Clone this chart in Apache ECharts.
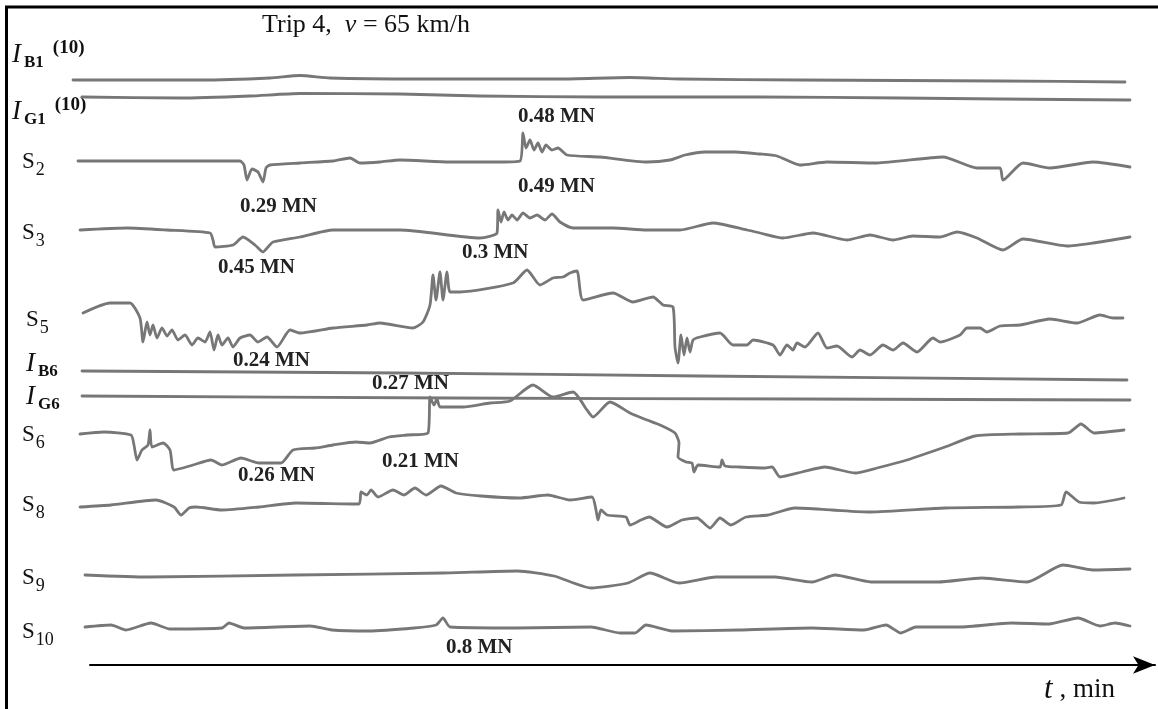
<!DOCTYPE html>
<html><head><meta charset="utf-8">
<script src="https://cdn.jsdelivr.net/npm/echarts@6/dist/echarts.min.js"></script>
<style>html,body{margin:0;padding:0;background:#fff}#c{width:1158px;height:709px}</style>
</head><body><div id="c"></div>
<script>
// time (arbitrary units from the start of the record) vs. pen position (chart units, downwards)
const IB1 = [[3,80],[130,80],[200,78],[230,75.5],[260,78],[350,79],[490,79],[560,77.5],[610,79],[730,80],[930,81],[1055,82]];
const IG1 = [[12,97],[110,98],[180,96],[230,93.5],[330,94],[410,96],[530,97],[690,97],[830,98],[930,99],[1060,100]];
const S2 = [[8,161],[170,161],[174,165],[177,180],[182,169],[188,172],[193,182],[196,168],[200,165],[230,163],[263,161],[280,158],[290,163],[310,162],[330,160],[380,162],[430,162],[450,161],[453,133],[456,148],[460,140],[464,150],[468,143],[472,152],[476,145],[482,150],[488,148],[497,155],[530,157],[577,162],[600,160],[615,155],[635,152],[665,152],[690,154],[707,156],[730,165],[757,162],[807,163],[873,157],[907,168],[930,168],[933,180],[953,163],[980,168],[1023,162],[1060,167]];
const S3 = [[10,230],[57,228],[97,230],[140,233],[143,240],[145,247],[163,245],[173,237],[185,245],[193,252],[198,247],[203,242],[230,237],[263,230],[330,230],[410,238],[427,233],[428,210],[431,222],[434,212],[438,220],[442,215],[447,220],[453,213],[460,218],[467,215],[475,220],[482,214],[490,222],[503,228],[543,228],[577,230],[610,230],[643,223],[677,230],[690,233],[713,238],[743,233],[777,240],[800,235],[823,240],[843,236],[870,237],[887,232],[907,238],[933,250],[953,239],[997,246],[1023,243],[1060,237]];
const S5 = [[13,313],[40,303],[60,303],[70,318],[73,342],[77,322],[80,335],[83,325],[87,338],[92,328],[97,336],[102,330],[108,340],[115,335],[122,345],[128,338],[135,342],[140,332],[144,350],[148,335],[152,345],[158,338],[163,347],[170,338],[180,335],[188,342],[197,337],[207,347],[220,330],[230,333],[263,328],[297,325],[310,323],[343,328],[353,322],[360,305],[363,275],[366,300],[370,272],[373,300],[377,272],[380,292],[390,292],[443,283],[457,270],[470,285],[483,278],[493,277],[500,273],[507,271],[513,300],[543,293],[563,302],[583,297],[593,305],[603,307],[605,347],[608,363],[611,335],[614,355],[617,338],[620,352],[623,340],[630,337],[650,333],[663,345],[677,345],[683,340],[703,345],[710,355],[717,345],[723,350],[727,343],[735,347],[748,333],[757,348],[767,346],[782,357],[790,350],[800,355],[813,345],[823,350],[833,343],[847,352],[863,338],[870,342],[890,335],[897,328],[910,328],[917,332],[930,326],[950,325],[980,319],[1007,323],[1030,315],[1043,318],[1053,318]];
const IB6 = [[12,371],[330,373],[630,376],[1057,380]];
const IG6 = [[12,396],[380,398],[730,399],[1060,400]];
const S6 = [[10,434],[34,432],[61,435],[64,445],[67,460],[72,450],[78,445],[80,430],[82,447],[93,443],[100,450],[104,470],[123,465],[141,460],[152,465],[171,458],[189,463],[211,463],[223,450],[245,448],[263,445],[286,442],[300,443],[319,437],[337,435],[358,433],[360,397],[364,405],[367,399],[370,407],[393,407],[420,403],[440,401],[463,385],[483,397],[503,392],[517,410],[523,417],[540,402],[560,413],[577,420],[590,425],[605,433],[609,443],[608,457],[616,462],[622,463],[624,472],[628,465],[650,467],[652,460],[655,466],[669,467],[695,468],[702,467],[710,477],[732,472],[755,467],[785,473],[807,468],[837,460],[875,447],[905,436],[949,434],[998,433],[1011,424],[1024,433],[1054,430]];
const S8 = [[10,507],[41,505],[86,500],[104,507],[111,515],[119,508],[126,507],[152,510],[189,507],[226,503],[289,504],[291,492],[297,495],[301,490],[308,497],[323,490],[334,495],[345,488],[356,495],[371,486],[386,493],[411,496],[449,498],[478,495],[500,500],[522,497],[526,510],[528,520],[531,510],[537,515],[556,517],[560,525],[571,520],[579,517],[597,527],[612,520],[627,518],[640,528],[650,518],[661,525],[676,517],[698,515],[725,508],[762,510],[800,512],[875,508],[949,507],[991,505],[996,492],[1009,502],[1024,503],[1054,498]];
const S9 = [[15,575],[78,577],[225,575],[373,573],[447,571],[484,576],[521,588],[558,583],[580,573],[609,583],[646,577],[705,577],[742,582],[765,575],[801,582],[868,582],[912,578],[957,582],[993,565],[1023,570],[1060,569]];
const S10 = [[15,627],[41,625],[56,630],[81,623],[100,629],[152,628],[159,623],[174,628],[240,626],[262,630],[299,631],[344,628],[366,625],[373,618],[380,627],[447,628],[521,627],[550,633],[565,633],[576,625],[602,631],[669,630],[742,628],[794,630],[816,625],[831,633],[846,627],[890,627],[942,623],[979,624],[1008,618],[1030,626],[1045,623],[1060,626]];

// channel tick labels
const channelLetters = ['I','I','S','S','S','I','I','S','S','S','S'];
const channelSubs = ['B1','G1','2','3','5','B6','G6','6','8','9','10'];
const channelSups = ['(10)','(10)','','','','','','','','',''];
// force annotations
const forceLabels = ['0.48 MN','0.29 MN','0.49 MN','0.45 MN','0.3 MN','0.24 MN','0.27 MN','0.26 MN','0.21 MN','0.8 MN'];
const titleText = 'Trip 4,  {i|ν} = 65 km/h';
const axisName = '{t|t}, min';

const traces = [IB1, IG1, S2, S3, S5, IB6, IG6, S6, S8, S9, S10];

// layout (pixels)
const labelPos = [[12,55],[12,112],[22,162],[22,233],[26,320],[26,364],[26,397],[22,435],[22,505],[22,578],[22,632]];
const forcePos = [[518,117],[240,207],[518,187],[218,268],[462,253],[233,361],[372,384],[238,476],[382,462],[446,648]];

const SERIF = '"Liberation Serif","DejaVu Serif",serif';
const chart = echarts.init(document.getElementById('c'), null, {renderer:'canvas'});

const graphics = [];
graphics.push({type:'polyline', shape:{points:[[6.5,709],[6.5,7],[1158,7]]}, style:{stroke:'#000', lineWidth:3, fill:null}, silent:true});
graphics.push({type:'text', x:262, y:25, style:{text:titleText, fontFamily:SERIF, fontSize:26, fill:'#111', verticalAlign:'middle',
  rich:{i:{fontFamily:SERIF, fontSize:26, fontStyle:'italic', fill:'#111'}}}});
graphics.push({type:'text', x:1044, y:690, style:{text:axisName, fontFamily:SERIF, fontSize:27, fill:'#111', verticalAlign:'middle',
  rich:{t:{fontFamily:SERIF, fontSize:31, fontStyle:'italic', fill:'#111', padding:[0,7,0,0]}}}});
channelLetters.forEach((L,i)=>{
  const isI = L==='I';
  let txt = (isI?'{I|I}':'{S|S}') + '{' + (isI?'bs':'ss') + '|' + channelSubs[i] + '}';
  if (channelSups[i]) txt += '{sup|' + channelSups[i] + '}';
  graphics.push({type:'text', x:labelPos[i][0], y:labelPos[i][1], style:{text:txt, verticalAlign:'middle', fill:'#111',
    rich:{
      I:{fontFamily:SERIF, fontSize:27, fontStyle:'italic', fill:'#111', padding:[0,3,0,0]},
      S:{fontFamily:SERIF, fontSize:23, fill:'#111'},
      bs:{fontFamily:SERIF, fontSize:17, fontWeight:'bold', fill:'#111', padding:[15,0,0,0]},
      ss:{fontFamily:SERIF, fontSize:18, fill:'#111', padding:[16,0,0,1]},
      sup:{fontFamily:SERIF, fontSize:19, fontWeight:'bold', fill:'#111', padding:[0,0,13,9]}
    }}});
});
forceLabels.forEach((t,i)=>{
  graphics.push({type:'text', x:forcePos[i][0], y:forcePos[i][1], style:{text:t, fontFamily:SERIF, fontSize:21, fontWeight:'bold', fill:'#222', verticalAlign:'middle'}});
});

chart.setOption({
  animation:false,
  backgroundColor:'#fff',
  grid:[{left:70,right:0,top:0,bottom:0},{left:90,right:3,top:663,height:2}],
  xAxis:[
    {type:'value', gridIndex:0, min:0, max:1088, show:false},
    {type:'value', gridIndex:1, min:0, max:1, axisLine:{show:true, symbol:['none','arrow'], symbolSize:[13,22], lineStyle:{color:'#000', width:2}},
      axisTick:{show:false}, axisLabel:{show:false}, splitLine:{show:false}}
  ],
  yAxis:[
    {type:'value', gridIndex:0, min:0, max:709, inverse:true, show:false},
    {type:'value', gridIndex:1, show:false}
  ],
  series: traces.map(d=>({type:'line', xAxisIndex:0, yAxisIndex:0, data:d, showSymbol:false, smooth:0.2, clip:false, silent:true,
    lineStyle:{color:'#777', width:2.8, cap:'round', join:'round'}})),
  graphic: graphics
});
</script></body></html>
